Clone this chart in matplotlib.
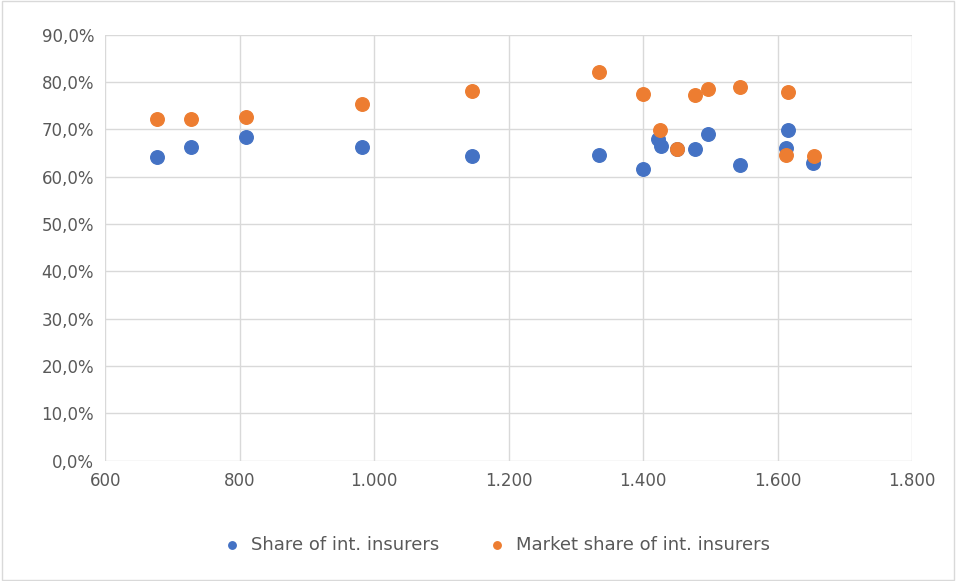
import matplotlib.pyplot as plt
from matplotlib.ticker import FuncFormatter

# premium per capita (x) and shares (y, %)
x_share = [677, 727, 810, 982, 1145, 1335, 1400, 1422, 1427, 1450, 1477, 1496, 1544, 1613, 1616, 1652]
y_share = [64.1, 66.4, 68.5, 66.4, 64.3, 64.7, 61.7, 67.9, 66.6, 65.8, 65.8, 69.1, 62.4, 66.0, 69.8, 63.0]
x_market = [677, 727, 810, 982, 1145, 1335, 1400, 1425, 1450, 1477, 1496, 1544, 1613, 1616, 1654]
y_market = [72.3, 72.3, 72.7, 75.3, 78.2, 82.2, 77.6, 69.8, 65.8, 77.2, 78.6, 78.9, 64.7, 78.0, 64.3]

blue = '#4472C4'
orange = '#ED7D31'
grey = '#595959'

def main():
    fig = plt.figure(figsize=(9.56, 5.81), dpi=100)
    ax = fig.add_axes([0.110, 0.207, 0.844, 0.733])
    ax.scatter(x_share, y_share, s=95, color=blue, label='Share of int. insurers', zorder=3)
    ax.scatter(x_market, y_market, s=95, color=orange, label='Market share of int. insurers', zorder=3)

    ax.set_xlim(600, 1800)
    ax.set_ylim(0, 90)
    ax.set_xticks(range(600, 1801, 200))
    ax.set_yticks(range(0, 91, 10))
    ax.xaxis.set_major_formatter(FuncFormatter(lambda v, p: f'{int(v):,}'.replace(',', '.')))
    ax.yaxis.set_major_formatter(FuncFormatter(lambda v, p: f'{v:.1f}%'.replace('.', ',')))
    ax.grid(True, color='#D9D9D9', linewidth=1)
    ax.set_axisbelow(True)
    for s in ax.spines.values():
        s.set_visible(False)
    ax.tick_params(length=0, labelsize=12, labelcolor=grey, pad=8)

    fig.legend(loc='center', bbox_to_anchor=(0.515, 0.062), ncol=2, frameon=False,
               fontsize=13, labelcolor=grey, handletextpad=0.05, columnspacing=2.2,
               markerscale=0.55)
    fig.patches.append(plt.Rectangle((0.002, 0.002), 0.996, 0.996, transform=fig.transFigure,
                                     fill=False, edgecolor='#D9D9D9', linewidth=1))
    plt.savefig('out.png', dpi=100)

main()
